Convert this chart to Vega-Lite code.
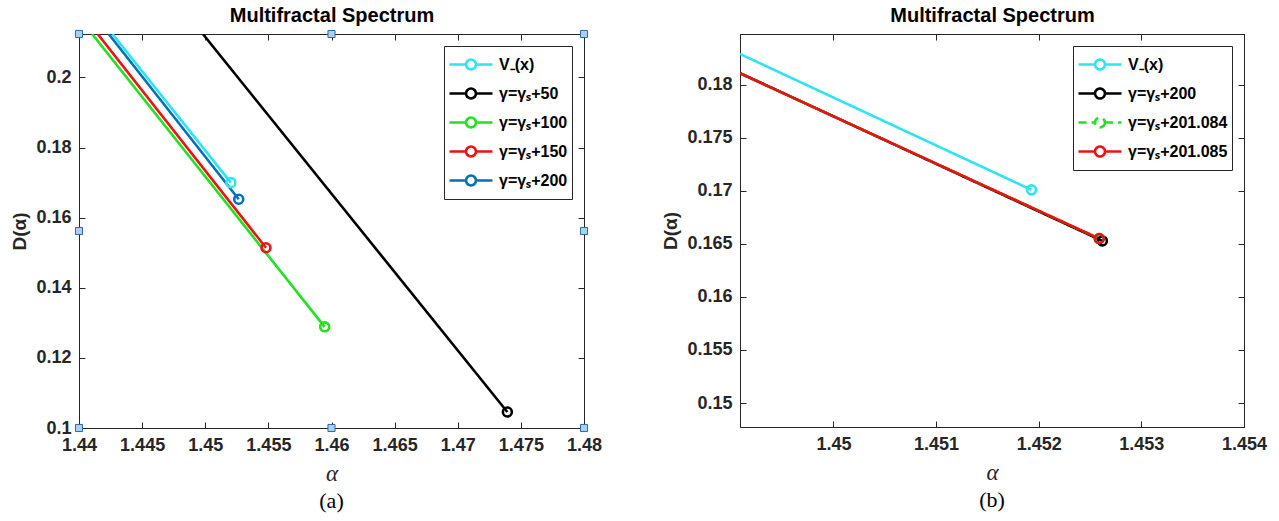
{
  "$schema": "https://vega.github.io/schema/vega-lite/v6.json",
  "padding": {"left": 10, "top": 5, "right": 5, "bottom": 0},
  "background": "white",
  "datasets": {
    "a": [
      {"series": "V₋(x)", "alpha": 1.44265, "D": 0.2124, "end": false},
      {"series": "V₋(x)", "alpha": 1.45203, "D": 0.1700, "end": true},
      {"series": "γ=γₛ+50", "alpha": 1.44981, "D": 0.2124, "end": false},
      {"series": "γ=γₛ+50", "alpha": 1.47393, "D": 0.10457, "end": true},
      {"series": "γ=γₛ+100", "alpha": 1.44104, "D": 0.2124, "end": false},
      {"series": "γ=γₛ+100", "alpha": 1.45946, "D": 0.12886, "end": true},
      {"series": "γ=γₛ+150", "alpha": 1.44148, "D": 0.2124, "end": false},
      {"series": "γ=γₛ+150", "alpha": 1.45481, "D": 0.15143, "end": true},
      {"series": "γ=γₛ+200", "alpha": 1.44235, "D": 0.2124, "end": false},
      {"series": "γ=γₛ+200", "alpha": 1.45265, "D": 0.16526, "end": true}
    ],
    "b": [
      {"series": "V₋(x)", "alpha": 1.44909, "D": 0.1829, "end": false},
      {"series": "V₋(x)", "alpha": 1.45193, "D": 0.17009, "end": true},
      {"series": "γ=γₛ+200", "alpha": 1.44909, "D": 0.1811, "end": false},
      {"series": "γ=γₛ+200", "alpha": 1.45262, "D": 0.16528, "end": true},
      {"series": "γ=γₛ+201.084", "alpha": 1.44909, "D": 0.18107, "end": false},
      {"series": "γ=γₛ+201.084", "alpha": 1.45259, "D": 0.1655, "end": true},
      {"series": "γ=γₛ+201.085", "alpha": 1.44909, "D": 0.18107, "end": false},
      {"series": "γ=γₛ+201.085", "alpha": 1.45259, "D": 0.1655, "end": true}
    ],
    "handles": [
      {"alpha": 1.44, "D": 0.1}, {"alpha": 1.46, "D": 0.1}, {"alpha": 1.48, "D": 0.1},
      {"alpha": 1.44, "D": 0.1562}, {"alpha": 1.48, "D": 0.1562},
      {"alpha": 1.44, "D": 0.2124}, {"alpha": 1.46, "D": 0.2124}, {"alpha": 1.48, "D": 0.2124}
    ]
  },
  "config": {
    "view": {"stroke": "#262626", "strokeWidth": 1},
    "font": "Liberation Sans",
    "axis": {
      "domainColor": "#262626", "domainWidth": 1,
      "tickColor": "#262626", "tickSize": -6, "tickWidth": 1,
      "labelFont": "Liberation Sans", "labelFontSize": 18, "labelFontWeight": "bold", "labelColor": "#262626",
      "labelFlush": false, "labelOverlap": false,
      "grid": false
    },
    "legend": {
      "title": null,
      "orient": "top-right",
      "offset": 12,
      "symbolType": "M-1,0L-0.23,0M0.23,0L1,0M0.23,0A0.23,0.23,0,1,1,-0.23,0A0.23,0.23,0,1,1,0.23,0",
      "symbolSize": 1850,
      "symbolStrokeWidth": 2.6,
      "symbolFillColor": "transparent",
      "labelFont": "Liberation Sans", "labelFontSize": 16, "labelFontWeight": "bold", "labelColor": "#000000",
      "labelOffset": 5,
      "strokeColor": "#262626", "fillColor": "white",
      "padding": 4, "clipHeight": 29, "rowPadding": 0
    },
    "title": {"font": "Liberation Serif", "fontSize": 22, "fontWeight": "normal", "color": "#000000"}
  },
  "hconcat": [
    {
      "width": 505, "height": 394,
      "title": {"text": "(a)", "orient": "bottom", "offset": 6},
      "layer": [
        {
          "data": {"name": "a"},
          "mark": {"type": "line", "strokeWidth": 2.6, "clip": true},
          "encoding": {
            "x": {"field": "alpha", "type": "quantitative", "scale": {"domain": [1.44, 1.48], "nice": false, "zero": false},
              "axis": {"orient": "bottom", "values": [1.44, 1.445, 1.45, 1.455, 1.46, 1.465, 1.47, 1.475, 1.48], "format": ".3~f", "labelPadding": 14, "title": "α", "titleFont": "Liberation Serif", "titleFontStyle": "italic", "titleFontWeight": "normal", "titleFontSize": 23, "titleColor": "#262626", "titlePadding": 8}},
            "y": {"field": "D", "type": "quantitative", "scale": {"domain": [0.1, 0.2124], "nice": false, "zero": false},
              "axis": {"orient": "left", "values": [0.1, 0.12, 0.14, 0.16, 0.18, 0.2], "format": ".3~f", "labelPadding": 14, "title": "D(α)", "titleFont": "Liberation Sans", "titleFontWeight": "bold", "titleFontSize": 19, "titleColor": "#262626", "titlePadding": 6}},
            "color": {"field": "series", "type": "nominal", "sort": null,
              "scale": {"domain": ["V₋(x)", "γ=γₛ+50", "γ=γₛ+100", "γ=γₛ+150", "γ=γₛ+200"], "range": ["#2ee3f2", "#000000", "#22e022", "#ee1111", "#0072bd"]}}
          }
        },
        {
          "data": {"name": "a"},
          "transform": [{"filter": "datum.end"}],
          "mark": {"type": "point", "filled": false, "size": 80, "strokeWidth": 2.6, "opacity": 1},
          "encoding": {
            "x": {"field": "alpha", "type": "quantitative", "axis": {"orient": "top", "values": [1.44, 1.445, 1.45, 1.455, 1.46, 1.465, 1.47, 1.475, 1.48], "labels": false, "title": "Multifractal Spectrum", "titleFont": "Liberation Sans", "titleFontWeight": "bold", "titleFontSize": 20, "titleColor": "#000000", "titlePadding": 8}},
            "y": {"field": "D", "type": "quantitative", "axis": {"orient": "right", "values": [0.1, 0.12, 0.14, 0.16, 0.18, 0.2], "labels": false, "title": null}},
            "color": {"field": "series", "type": "nominal", "sort": null}
          }
        },
        {
          "data": {"name": "handles"},
          "mark": {"type": "square", "size": 50, "filled": true, "fill": "#a9d0ee", "stroke": "#2a6aa8", "strokeWidth": 1, "opacity": 1, "clip": false},
          "encoding": {
            "x": {"field": "alpha", "type": "quantitative", "axis": null},
            "y": {"field": "D", "type": "quantitative", "axis": null}
          }
        }
      ],
      "resolve": {"axis": {"x": "independent", "y": "independent"}}
    },
    {
      "width": 504, "height": 393,
      "title": {"text": "(b)", "orient": "bottom", "offset": 6},
      "layer": [
        {
          "data": {"name": "b"},
          "mark": {"type": "line", "strokeWidth": 2.6, "clip": true},
          "encoding": {
            "x": {"field": "alpha", "type": "quantitative", "scale": {"domain": [1.44909, 1.454], "nice": false, "zero": false},
              "axis": {"orient": "bottom", "values": [1.45, 1.451, 1.452, 1.453, 1.454], "format": ".3~f", "labelPadding": 14, "title": "α", "titleFont": "Liberation Serif", "titleFontStyle": "italic", "titleFontWeight": "normal", "titleFontSize": 23, "titleColor": "#262626", "titlePadding": 8}},
            "y": {"field": "D", "type": "quantitative", "scale": {"domain": [0.14774, 0.18478], "nice": false, "zero": false},
              "axis": {"orient": "left", "values": [0.15, 0.155, 0.16, 0.165, 0.17, 0.175, 0.18], "format": ".3~f", "labelPadding": 14, "title": "D(α)", "titleFont": "Liberation Sans", "titleFontWeight": "bold", "titleFontSize": 19, "titleColor": "#262626", "titlePadding": 6}},
            "color": {"field": "series", "type": "nominal", "sort": null,
              "scale": {"domain": ["V₋(x)", "γ=γₛ+200", "γ=γₛ+201.084", "γ=γₛ+201.085"], "range": ["#2ee3f2", "#000000", "#22e022", "#ee1111"]}},
            "strokeDash": {"field": "series", "type": "nominal", "sort": null,
              "scale": {"domain": ["V₋(x)", "γ=γₛ+200", "γ=γₛ+201.084", "γ=γₛ+201.085"], "range": [[1, 0], [1, 0], [8, 5], [1, 0]]}}
          }
        },
        {
          "data": {"name": "b"},
          "transform": [{"filter": "datum.end"}],
          "mark": {"type": "point", "filled": false, "size": 80, "strokeWidth": 2.6, "opacity": 1},
          "encoding": {
            "x": {"field": "alpha", "type": "quantitative", "axis": {"orient": "top", "values": [1.45, 1.451, 1.452, 1.453, 1.454], "labels": false, "title": "Multifractal Spectrum", "titleFont": "Liberation Sans", "titleFontWeight": "bold", "titleFontSize": 20, "titleColor": "#000000", "titlePadding": 8}},
            "y": {"field": "D", "type": "quantitative", "axis": {"orient": "right", "values": [0.15, 0.155, 0.16, 0.165, 0.17, 0.175, 0.18], "labels": false, "title": null}},
            "color": {"field": "series", "type": "nominal", "sort": null}
          }
        }
      ],
      "resolve": {"axis": {"x": "independent", "y": "independent"}}
    }
  ],
  "spacing": 58,
  "resolve": {"scale": {"color": "independent", "strokeDash": "independent"}, "legend": {"color": "independent", "strokeDash": "independent"}}
}
